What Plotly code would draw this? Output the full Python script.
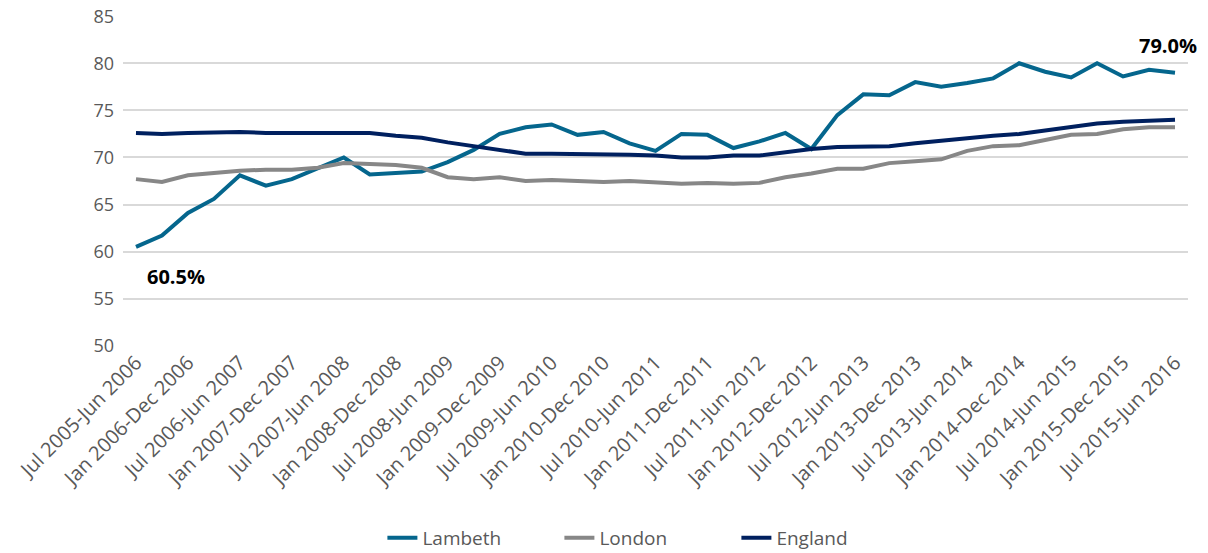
import plotly.graph_objects as go

# Rolling-year period labels (quarterly)
months = ["Jul", "Oct", "Jan", "Apr"]
end_months = ["Jun", "Sep", "Dec", "Mar"]
categories = []
for i in range(41):
    q = i % 4
    start_year = 2005 + (i + 2) // 4
    end_year = start_year + (0 if q == 2 else 1)
    categories.append(f"{months[q]} {start_year}-{end_months[q]} {end_year}")

lambeth = [60.5, 61.7, 64.1, 65.6, 68.1, 67.0, 67.7, 68.8, 70.0, 68.2,
           68.3, 68.5, 69.5, 70.8, 72.5, 73.2, 73.5, 72.4, 72.7, 71.5,
           70.7, 72.5, 72.4, 71.0, 71.7, 72.6, 70.9, 74.5, 76.7, 76.6,
           78.0, 77.5, 77.9, 78.4, 80.0, 79.1, 78.5, 80.0, 78.6, 79.3, 79.0]
london = [67.7, 67.4, 68.1, 68.4, 68.6, 68.7, 68.7, 68.9, 69.4, 69.3,
          69.2, 68.9, 67.9, 67.7, 67.9, 67.5, 67.6, 67.5, 67.4, 67.5,
          67.3, 67.2, 67.3, 67.2, 67.3, 67.9, 68.3, 68.8, 68.8, 69.4,
          69.6, 69.8, 70.7, 71.2, 71.3, 71.9, 72.4, 72.5, 73.0, 73.2, 73.2]
england = [72.6, 72.5, 72.6, 72.7, 72.7, 72.6, 72.6, 72.7, 72.7, 72.6,
           72.3, 72.1, 71.6, 71.2, 70.8, 70.4, 70.4, 70.4, 70.3, 70.3,
           70.2, 70.0, 70.0, 70.2, 70.2, 70.6, 70.9, 71.1, 71.1, 71.2,
           71.5, 71.8, 72.0, 72.3, 72.5, 72.9, 73.2, 73.6, 73.8, 73.9, 74.0]

tick_labels = categories[::2]
y_ticks = [50, 55, 60, 65, 70, 75, 80, 85]

series = [("Lambeth", lambeth, "#05668D"),
          ("London", london, "#878787"),
          ("England", england, "#00205F")]

fig = go.Figure()
for name, vals, color in series:
    fig.add_trace(go.Scatter(x=categories, y=vals, name=name, mode="lines",
                             line=dict(color=color, width=4)))

font_family = "'Open Sans', 'Noto Sans', sans-serif"
# page body has an 8px default margin, so the figure is 8px smaller each way
fig.update_layout(
    width=1200, height=545,
    margin=dict(l=115, r=20, t=8, b=207),
    plot_bgcolor="white", paper_bgcolor="white",
    font=dict(family=font_family, color="#595959", size=18),
    showlegend=True,
    legend=dict(orientation="h", xref="container", yref="container",
                x=0.312, xanchor="left", y=0.0275, yanchor="middle",
                font=dict(size=19, color="#595959"), itemwidth=30,
                entrywidth=132, entrywidthmode="pixels",
                tracegroupgap=0, bgcolor="rgba(0,0,0,0)"),
    xaxis=dict(type="category", range=[-0.5, 40.5], tickmode="array",
               tickvals=tick_labels, ticktext=tick_labels, tickangle=-45,
               showgrid=False, showline=False, ticks="", automargin=False,
               tickfont=dict(size=20, color="#595959")),
    yaxis=dict(range=[49.98, 85.02], tickmode="array", tickvals=y_ticks,
               showgrid=True, gridcolor="#D9D9D9", gridwidth=1.5,
               zeroline=False, showline=False, ticks="", automargin=False,
               ticklabelstandoff=8, ticklabeloverflow="allow",
               tickfont=dict(size=18, color="#595959")),
)

fig.add_annotation(x=categories[0], y=lambeth[0], text="<b>60.5%</b>",
                   showarrow=False, xanchor="left", xshift=9, yshift=-30,
                   font=dict(size=20, color="#000000", family=font_family))
fig.add_annotation(x=categories[-1], y=lambeth[-1], text="<b>79.0%</b>",
                   showarrow=False, xanchor="center", xshift=-7, yshift=27,
                   font=dict(size=20, color="#000000", family=font_family))

fig.write_html("out.html")
